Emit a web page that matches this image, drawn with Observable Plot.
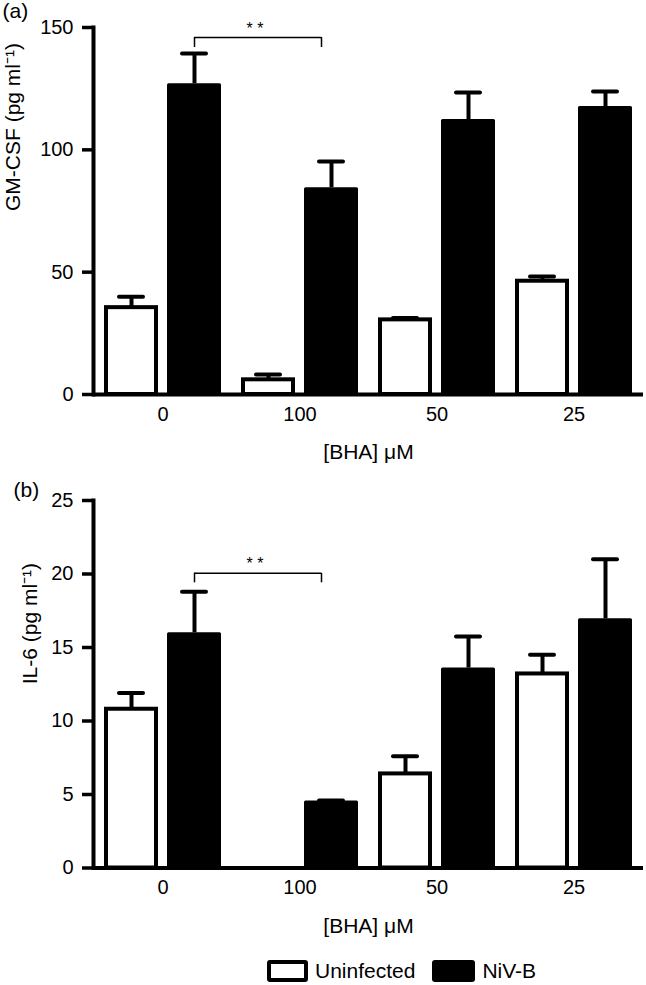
<!DOCTYPE html>
<html><head><meta charset="utf-8">
<script src="https://cdn.jsdelivr.net/npm/d3@7"></script>
<script src="https://cdn.jsdelivr.net/npm/@observablehq/plot@0.6"></script>
<style>
body{margin:0;background:#fff;font-family:"Liberation Sans",Arial,Helvetica,sans-serif;}
#chart{position:relative;width:646px;height:985px;overflow:hidden;}
#chart svg{display:block;}
.legend{position:absolute;left:267px;top:960px;display:flex;align-items:center;font-size:21px;color:#000;line-height:22px;}
.sw{height:22px;box-sizing:border-box;border-radius:3px;}
</style></head><body><div id="chart"></div>
<script>
// ---- data ----
const concentrations = ["0", "100", "50", "25"];
const seriesNames = ["Uninfected", "NiV-B"];
const xTitle = "[BHA] \u03bcM";

const gmcsfUninfected = [35.5, 6.0, 30.5, 46.3];
const gmcsfUninfectedUpper = [40.0, 8.2, 31.3, 48.2];
const gmcsfNiV = [127.0, 84.5, 112.4, 117.7];
const gmcsfNiVUpper = [139.4, 95.2, 123.4, 123.8];
const gmcsfTicks = [0, 50, 100, 150];

const il6Uninfected = [10.8, 0, 6.4, 13.2];
const il6UninfectedUpper = [11.9, 0, 7.6, 14.5];
const il6NiV = [16.0, 4.55, 13.6, 16.95];
const il6NiVUpper = [18.8, 4.6, 15.75, 21.0];
const il6Ticks = [0, 5, 10, 15, 20, 25];

const gmcsfBracket = [{from: "0", to: "100", low: 141.8, high: 145.9, label: "* *"}];
const il6Bracket = [{from: "0", to: "100", low: 19.4, high: 20.05, label: "* *"}];

// ---- layout ----
const W = 646, H = 475, ML = 93;
const barW = 54, pairGap = 9, groupGap = 20, outerPad = 11;
const bw = 2 * barW + pairGap;
const step = bw + groupGap;
const rangeW = 2 * outerPad + concentrations.length * bw + (concentrations.length - 1) * groupGap;
const MR = W - ML - rangeW;
const half = (bw + pairGap) / 4; // offset from band centre to each bar centre
const rightOff = half - 10;       // bracket right end, relative to band centre
const font = "'Liberation Sans', Arial, Helvetica, sans-serif";

function panel(o) {
  const rows = concentrations.flatMap((c, i) => [
    {conc: c, series: seriesNames[0], value: o.uninf[i], upper: o.uninfUp[i]},
    {conc: c, series: seriesNames[1], value: o.niv[i], upper: o.nivUp[i]}
  ]);
  const U = rows.filter(d => d.series === seriesNames[0]);
  const N = rows.filter(d => d.series === seriesNames[1]);
  const capHalf = 12;
  return Plot.plot({
    width: W, height: H,
    marginLeft: ML, marginRight: MR, marginTop: o.mt, marginBottom: H - o.mt - o.plotH,
    x: {type: "band", domain: concentrations, paddingInner: groupGap / step, paddingOuter: outerPad / step, round: false, label: null},
    y: {domain: o.domain, label: null},
    style: {fontFamily: font, fontSize: "20px", background: "white", color: "black", overflow: "visible"},
    marks: [
      // bars
      Plot.barY(U.filter(d => d.value > 0), {x: "conc", y: "value", fill: "white", stroke: "black", strokeWidth: 4,
        insetLeft: 2, insetRight: bw - barW + 2}),
      Plot.barY(N.filter(d => d.value > 0), {x: "conc", y: "value", fill: "black", insetLeft: bw - barW, rx: 1.5}),
      // error stems
      Plot.ruleX(U.filter(d => d.upper > d.value), {x: "conc", y1: "value", y2: "upper", dx: -half, strokeWidth: 4}),
      Plot.ruleX(N.filter(d => d.upper > d.value), {x: "conc", y1: "value", y2: "upper", dx: half, strokeWidth: 4}),
      // error caps
      Plot.tickY(U.filter(d => d.upper > d.value), {x: "conc", y: "upper", strokeWidth: 4, strokeLinecap: "round",
        insetLeft: barW / 2 - capHalf, insetRight: bw - barW / 2 - capHalf}),
      Plot.tickY(N.filter(d => d.upper > d.value), {x: "conc", y: "upper", strokeWidth: 4, strokeLinecap: "round",
        insetLeft: bw - barW / 2 - capHalf, insetRight: barW / 2 - capHalf}),
      // significance bracket (ruleY spans from start of "from" band to end of "to" band)
      Plot.ruleY(o.bracket, {y: "high", x1: "from", x2: "to", insetLeft: bw / 2 + half, insetRight: bw / 2 - rightOff, strokeWidth: 1.5}),
      Plot.ruleX(o.bracket, {x: "from", y1: "low", y2: "high", dx: half, strokeWidth: 1.5}),
      Plot.ruleX(o.bracket, {x: "to", y1: "low", y2: "high", dx: rightOff, strokeWidth: 1.5}),
      Plot.text(o.bracket, {x: "from", y: "high", text: "label", dx: (half + step + rightOff) / 2 - 3, dy: -9, fontSize: 16, lineAnchor: "middle"}),
      // axis lines
      Plot.ruleY([0], {strokeWidth: 4}),
      Plot.frame({anchor: "left", strokeWidth: 4}),
      Plot.axisY({ticks: o.ticks, tickSize: 11, tickPadding: 9, strokeWidth: 3.5, fontSize: 20, label: null}),
      Plot.axisX({tickSize: 0, tickPadding: 12, fontSize: 20, label: null}),
      // titles
      Plot.text([xTitle], {frameAnchor: "bottom", dy: 58, fontSize: 21, lineAnchor: "middle"}),
      Plot.text([o.yLabel], {frameAnchor: "left", rotate: -90, dx: o.labelDx, fontSize: 21, lineAnchor: "middle"}),
      Plot.text([o.tag], {frameAnchor: "top-left", textAnchor: "start", lineAnchor: "middle", dx: o.tagDx, dy: o.tagDy, fontSize: 21})
    ]
  });
}

const chart = document.getElementById("chart");
chart.append(panel({
  uninf: gmcsfUninfected, uninfUp: gmcsfUninfectedUpper, niv: gmcsfNiV, nivUp: gmcsfNiVUpper,
  domain: [0, 150], ticks: gmcsfTicks, mt: 27, plotH: 367, bracket: gmcsfBracket,
  yLabel: "GM-CSF (pg ml\u207b\u00b9)", labelDx: -80, tag: "(a)", tagDx: -91, tagDy: -16
}));
chart.append(panel({
  uninf: il6Uninfected, uninfUp: il6UninfectedUpper, niv: il6NiV, nivUp: il6NiVUpper,
  domain: [0, 25], ticks: il6Ticks, mt: 25, plotH: 367.5, bracket: il6Bracket,
  yLabel: "IL-6 (pg ml\u207b\u00b9)", labelDx: -63, tag: "(b)", tagDx: -80, tagDy: -10
}));

const legend = document.createElement("div");
legend.className = "legend";
legend.innerHTML =
  `<div class="sw" style="width:41px;border:4px solid #000;background:#fff"></div>` +
  `<span style="margin-left:7px">${seriesNames[0]}</span>` +
  `<div class="sw" style="width:43px;background:#000;margin-left:17px"></div>` +
  `<span style="margin-left:7px">${seriesNames[1]}</span>`;
chart.append(legend);
</script></body></html>
